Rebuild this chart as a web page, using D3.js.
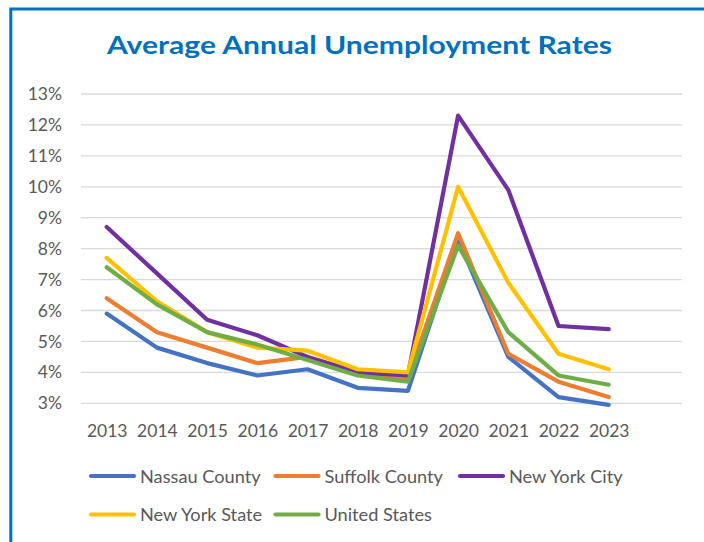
<!DOCTYPE html>
<html>
<head>
<meta charset="utf-8">
<script src="https://cdn.jsdelivr.net/npm/d3@7/dist/d3.min.js"></script>
<style>
  html, body { margin: 0; padding: 0; background: #ffffff; }
  svg { display: block; }
  text { font-family: Lato, "Open Sans", sans-serif; }
</style>
</head>
<body>
<svg id="chart" width="704" height="542"></svg>
<script>
// Annual average unemployment rate (%) by area
const years = [2013, 2014, 2015, 2016, 2017, 2018, 2019, 2020, 2021, 2022, 2023];
const nassauCounty  = [5.9, 4.8, 4.3, 3.9, 4.1, 3.5, 3.4, 8.3, 4.5, 3.2, 2.95];
const suffolkCounty = [6.4, 5.3, 4.8, 4.3, 4.5, 4.0, 3.8, 8.5, 4.6, 3.7, 3.2];
const newYorkCity   = [8.7, 7.2, 5.7, 5.2, 4.5, 4.0, 3.9, 12.3, 9.9, 5.5, 5.4];
const newYorkState  = [7.7, 6.3, 5.3, 4.8, 4.7, 4.1, 4.0, 10.0, 6.9, 4.6, 4.1];
const unitedStates  = [7.4, 6.2, 5.3, 4.9, 4.4, 3.9, 3.7, 8.1, 5.3, 3.9, 3.6];
const seriesNames = ["Nassau County", "Suffolk County", "New York City", "New York State", "United States"];
const yTicks = [3, 4, 5, 6, 7, 8, 9, 10, 11, 12, 13];
const title = "Average Annual Unemployment Rates";

const seriesValues = [nassauCounty, suffolkCounty, newYorkCity, newYorkState, unitedStates];
const colors = ["#4472C4", "#ED7D31", "#7030A0", "#FFC000", "#70AD47"];
const series = seriesNames.map((name, i) => ({
  name,
  color: colors[i],
  values: years.map((y, j) => ({ year: y, value: seriesValues[i][j] }))
}));

const svg = d3.select("#chart");
const textColor = "#595959";

// Outer frame (runs off the right and bottom edges)
svg.append("rect")
  .attr("x", 10.8).attr("y", 9)
  .attr("width", 760).attr("height", 600)
  .attr("fill", "none")
  .attr("stroke", "#0070C0")
  .attr("stroke-width", 3);

// Title
svg.append("text")
  .attr("x", 359.5).attr("y", 54)
  .attr("text-anchor", "middle")
  .attr("fill", "#0070C0")
  .attr("font-weight", "bold")
  .attr("font-size", 24)
  .attr("textLength", 505)
  .attr("lengthAdjust", "spacingAndGlyphs")
  .text(title);

// Scales
const plotLeft = 81, plotRight = 682;
const x = d3.scalePoint().domain(years).range([106.7, 608.7]);
const y = d3.scaleLinear().domain([3, 13]).range([403.3, 94]);

// Horizontal gridlines
svg.append("g")
  .selectAll("line")
  .data(yTicks)
  .join("line")
  .attr("x1", plotLeft).attr("x2", plotRight)
  .attr("y1", d => y(d)).attr("y2", d => y(d))
  .attr("stroke", "#D9D9D9")
  .attr("stroke-width", 1.3);

// Y axis labels
const yAxis = svg.append("g")
  .attr("transform", `translate(${plotLeft},0)`)
  .call(d3.axisLeft(y).tickValues(yTicks).tickSize(0).tickPadding(19)
    .tickFormat(d => d + "%"));
yAxis.select(".domain").remove();
yAxis.selectAll("text")
  .attr("fill", textColor)
  .attr("font-size", 17.5)
  .style("font-family", "Lato, 'Open Sans', sans-serif");

// X axis labels
const xAxis = svg.append("g")
  .attr("transform", `translate(0,${y(3)})`)
  .call(d3.axisBottom(x).tickSize(0).tickPadding(21.3));
xAxis.select(".domain").remove();
xAxis.selectAll("text")
  .attr("fill", textColor)
  .attr("font-size", 17.5)
  .style("font-family", "Lato, 'Open Sans', sans-serif");

// Series lines
const line = d3.line()
  .x(d => x(d.year))
  .y(d => y(d.value));

svg.append("g")
  .selectAll("path")
  .data(series)
  .join("path")
  .attr("d", d => line(d.values))
  .attr("fill", "none")
  .attr("stroke", d => d.color)
  .attr("stroke-width", 4.2)
  .attr("stroke-linejoin", "round")
  .attr("stroke-linecap", "round");

// Legend: three columns, two rows
const legendX0 = 89, legendColW = 184.5, legendY0 = 476, legendRowH = 38.5;
const legend = svg.append("g")
  .selectAll("g")
  .data(series)
  .join("g")
  .attr("transform", (d, i) =>
    `translate(${legendX0 + (i % 3) * legendColW},${legendY0 + Math.floor(i / 3) * legendRowH})`);

legend.append("line")
  .attr("x1", 2).attr("x2", 45)
  .attr("y1", 0).attr("y2", 0)
  .attr("stroke", d => d.color)
  .attr("stroke-width", 4.2)
  .attr("stroke-linecap", "round");

legend.append("text")
  .attr("x", 51).attr("y", 0)
  .attr("dy", "0.36em")
  .attr("fill", textColor)
  .attr("font-size", 18.2)
  .text(d => d.name);
</script>
</body>
</html>
